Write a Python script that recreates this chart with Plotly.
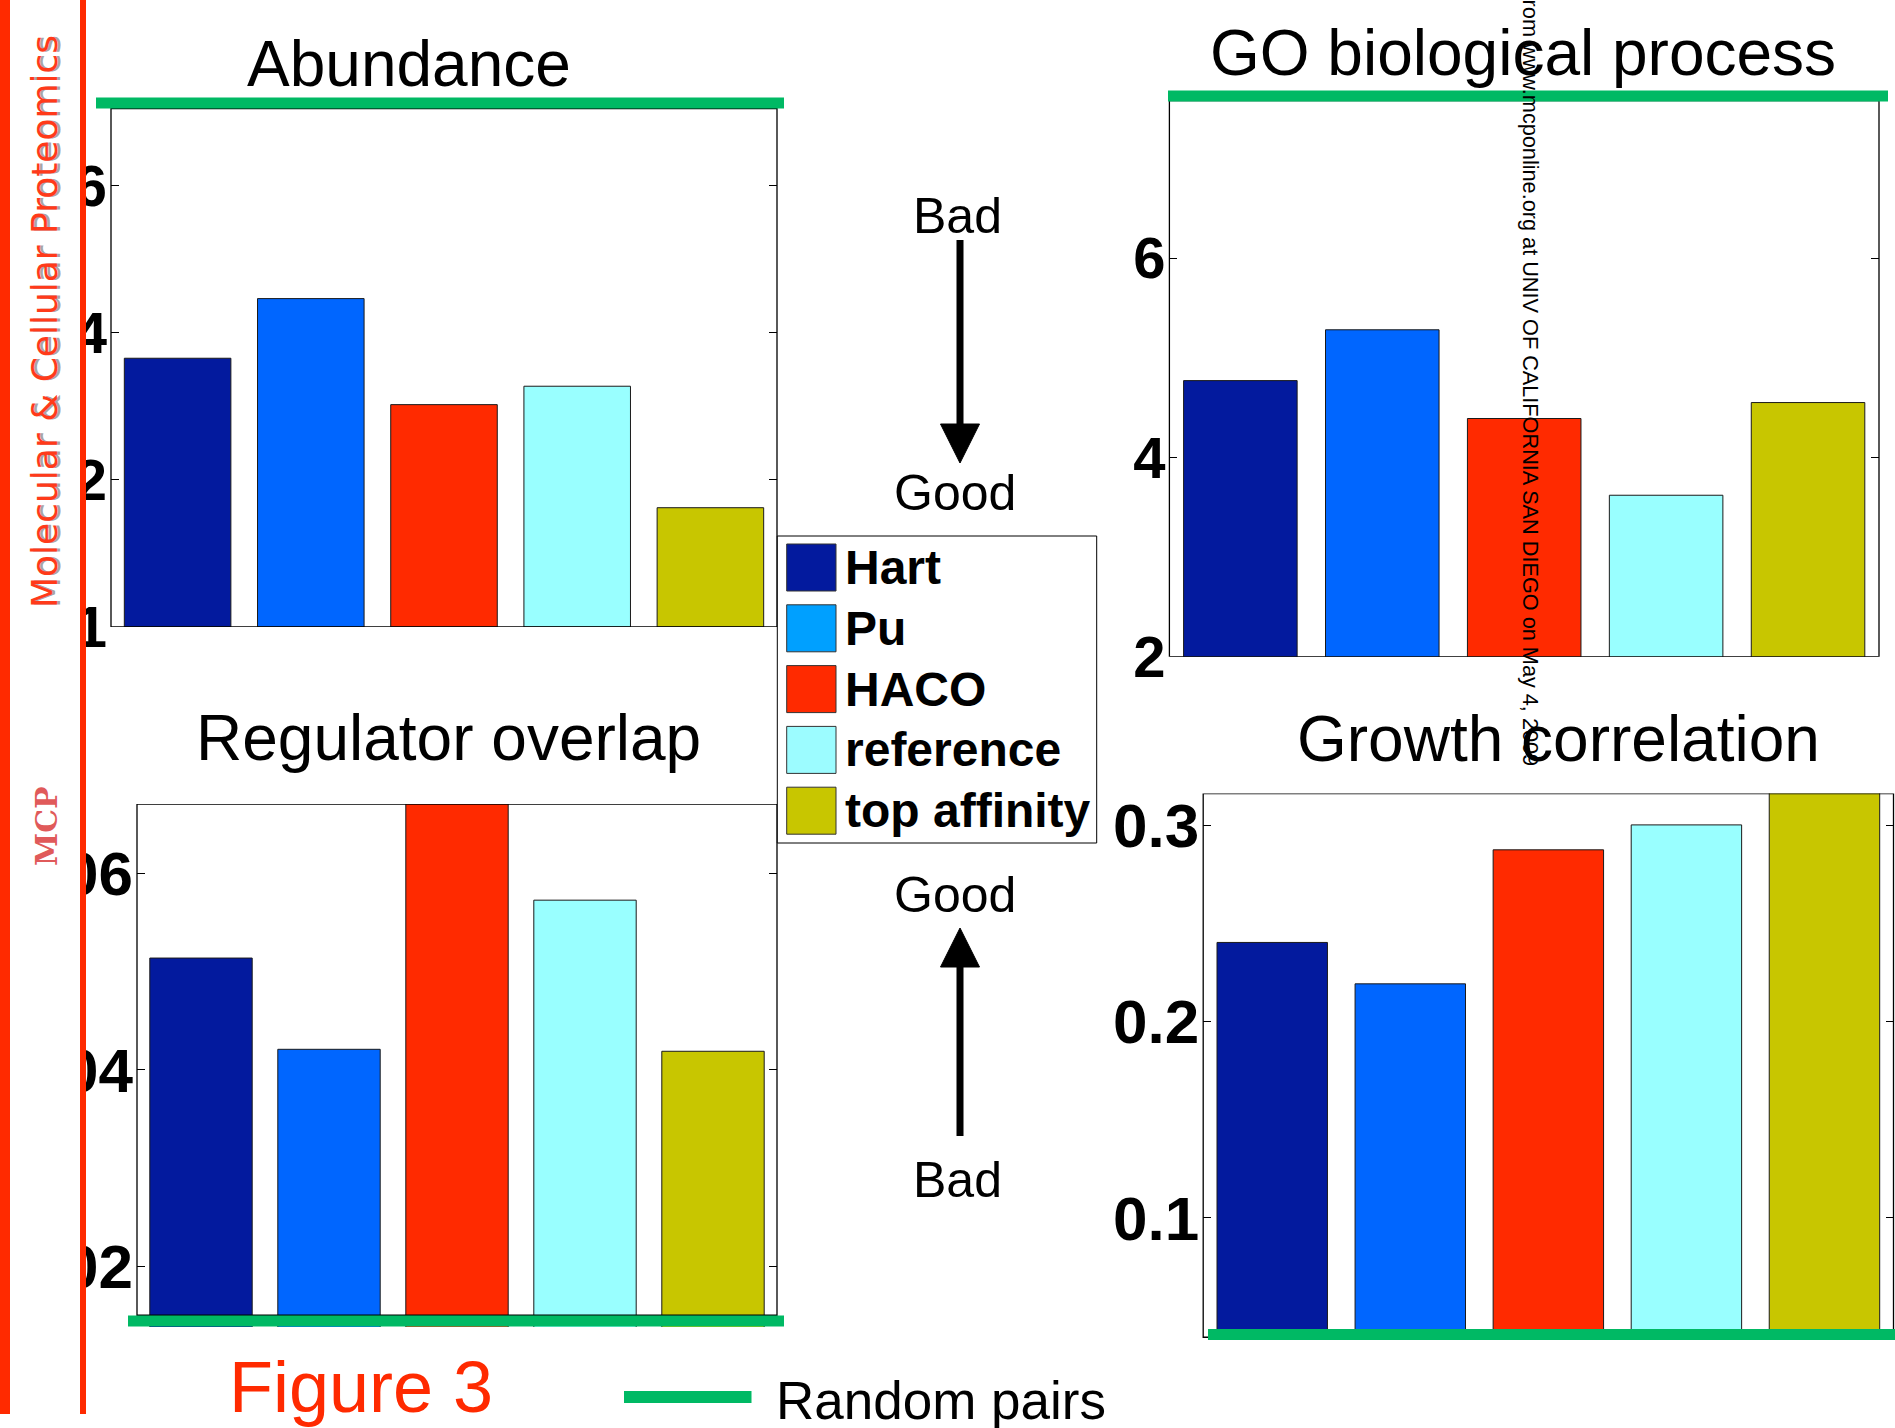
import plotly.graph_objects as go

# ---------------------------------------------------------------- data
CATEGORIES = ["Hart", "Pu", "HACO", "reference", "top affinity"]
BAR_COLORS = ["#031a9e", "#0066ff", "#ff2a00", "#99ffff", "#c8c600"]
LEGEND_COLORS = ["#031a9e", "#00a0ff", "#ff2a00", "#9cfcff", "#c8c600"]

ABUNDANCE = [3.65, 4.46, 3.02, 3.27, 1.62]
REGULATOR_OVERLAP = [0.0514, 0.0421, 0.0700, 0.0573, 0.0419]
GO_PROCESS = [4.77, 5.28, 4.39, 3.62, 4.55]
GROWTH_CORRELATION = [0.2404, 0.2193, 0.2876, 0.3003, 0.3300]

# level reached by random protein pairs, one per panel
RANDOM_PAIRS = [7.116, 0.01442, 7.625, 0.0406]

PANEL_TITLES = ["Abundance", "Regulator overlap", "GO biological process", "Growth correlation"]

ABUND_TICKS = [0, 2, 4, 6]
ABUND_TICK_TEXT = ["1", "2", "4", "6"]
REG_TICKS = [0.02, 0.04, 0.06]
REG_TICK_TEXT = ["0.02", "0.04", "0.06"]
GO_TICKS = [2, 4, 6]
GO_TICK_TEXT = ["2", "4", "6"]
GROWTH_TICKS = [0.1, 0.2, 0.3]
GROWTH_TICK_TEXT = ["0.1", "0.2", "0.3"]

X_POS = list(range(1, len(CATEGORIES) + 1))

# ---------------------------------------------------------------- page geometry
W, H = 1895, 1428
SANS = "Liberation Sans, Arial, Helvetica, sans-serif"
GREEN = "#00b964"
RED = "#ff2a00"


def fx(px):
    return px / W


def fy(px):
    return 1 - px / H


# plot areas in pixels (left, right, top, bottom), y range, framed y extent,
# tick font size, title centre, extent of the random-pairs line
PANELS = [
    dict(values=ABUNDANCE, ticks=ABUND_TICKS, ticktext=ABUND_TICK_TEXT,
         area=(111, 777, 95, 627), yrange=[0, 7.225], frame=(0, 7.04),
         tick_size=58, title_xy=(409, 64), line_x=(96, 784)),
    dict(values=REGULATOR_OVERLAP, ticks=REG_TICKS, ticktext=REG_TICK_TEXT,
         area=(137, 777, 804, 1327), yrange=[0.0138, 0.0671], frame=(0.0150, 0.0671),
         tick_size=62, title_xy=(448.5, 738), line_x=(128, 784)),
    dict(values=GO_PROCESS, ticks=GO_TICKS, ticktext=GO_TICK_TEXT,
         area=(1169.4, 1879, 88, 656.7), yrange=[2, 7.706], frame=(2, 7.58),
         tick_size=58, title_xy=(1523, 53), line_x=(1168, 1888)),
    dict(values=GROWTH_CORRELATION, ticks=GROWTH_TICKS, ticktext=GROWTH_TICK_TEXT,
         area=(1203.2, 1893.5, 793.5, 1340), yrange=[0.0378, 0.3163], frame=(0.0392, 0.3163),
         tick_size=62, title_xy=(1558, 739), line_x=(1208, 1895)),
]

fig = go.Figure()
shapes = []
annotations = []


def text_ann(text, x_px, y_px, size, color="black", weight="normal",
             family=SANS, xanchor="center", angle=0):
    return dict(text=text, x=fx(x_px), y=fy(y_px), xref="paper", yref="paper",
                xanchor=xanchor, yanchor="middle", showarrow=False, textangle=angle,
                font=dict(family=family, size=size, color=color, weight=weight))


for i, p in enumerate(PANELS, start=1):
    sfx = "" if i == 1 else str(i)
    xa, ya = "x" + sfx, "y" + sfx
    left, right, top, bottom = p["area"]

    fig.add_trace(go.Bar(
        x=X_POS, y=p["values"], width=0.8,
        marker=dict(color=BAR_COLORS, line=dict(color="#1a1a1a", width=1)),
        xaxis=xa, yaxis=ya, showlegend=False, hoverinfo="skip",
    ))

    fig.layout["xaxis" + sfx] = dict(
        domain=[fx(left), fx(right)], range=[0.5, 5.5], anchor=ya,
        showticklabels=False, ticks="", showgrid=False, zeroline=False, showline=False,
    )
    fig.layout["yaxis" + sfx] = dict(
        domain=[fy(bottom), fy(top)], range=p["yrange"], anchor=xa,
        tickvals=p["ticks"], ticktext=p["ticktext"],
        ticks="inside", ticklen=8, tickwidth=1, tickcolor="black",
        mirror="ticks", showline=False, showgrid=False, zeroline=False,
        ticklabelstandoff=3,
        tickfont=dict(family=SANS, size=p["tick_size"], color="black", weight="bold"),
    )

    # axes box
    shapes.append(dict(type="rect", xref=xa + " domain", yref=ya, x0=0, x1=1,
                       y0=p["frame"][0], y1=p["frame"][1],
                       line=dict(color="black", width=1.3), fillcolor="rgba(0,0,0,0)",
                       layer="above"))
    # random-pairs level
    rp = RANDOM_PAIRS[i - 1]
    shapes.append(dict(type="line", xref="paper", yref=ya,
                       x0=fx(p["line_x"][0]), x1=fx(p["line_x"][1]), y0=rp, y1=rp,
                       line=dict(color=GREEN, width=11), layer="above"))

    tx, ty = p["title_xy"]
    annotations.append(text_ann(PANEL_TITLES[i - 1], tx, ty, 64))

# ---------------------------------------------------------------- journal side bar
shapes += [
    dict(type="rect", xref="paper", yref="paper", x0=0, x1=fx(86), y0=0, y1=1,
         fillcolor="white", line=dict(width=0), layer="above"),
    dict(type="rect", xref="paper", yref="paper", x0=0, x1=fx(10), y0=fy(1414), y1=1,
         fillcolor=RED, line=dict(width=0), layer="above"),
    dict(type="rect", xref="paper", yref="paper", x0=fx(80), x1=fx(86), y0=fy(1414), y1=1,
         fillcolor=RED, line=dict(width=0), layer="above"),
]
annotations.append(text_ann("Molecular & Cellular Proteomics", 48, 322, 36,
                            color="rgba(90,90,90,0.55)", family="DejaVu Sans", angle=-90))
annotations.append(text_ann("Molecular & Cellular Proteomics", 45, 322, 36,
                            color="#ff3a1a", family="DejaVu Sans", angle=-90))
annotations.append(text_ann("MCP", 46, 826, 30, color="#e05a5a", weight="bold",
                            family="DejaVu Serif", angle=-90))

# ---------------------------------------------------------------- Bad / Good arrows
def arrow_shapes(shaft_from, shaft_to, head_base, tip, cx=960, half=19.5):
    return [
        dict(type="line", xref="paper", yref="paper",
             x0=fx(cx), x1=fx(cx), y0=fy(shaft_from), y1=fy(shaft_to),
             line=dict(color="black", width=7), layer="above"),
        dict(type="path", xref="paper", yref="paper",
             path=f"M{fx(cx - half)},{fy(head_base)} L{fx(cx + half)},{fy(head_base)} "
                  f"L{fx(cx)},{fy(tip)} Z",
             fillcolor="black", line=dict(color="black", width=1), layer="above"),
    ]


shapes += arrow_shapes(240, 426, 424, 463)
shapes += arrow_shapes(1136, 965, 967, 928)
annotations += [
    text_ann("Bad", 957, 216, 50),
    text_ann("Good", 955, 493, 50),
    text_ann("Good", 955, 895, 50),
    text_ann("Bad", 957, 1180, 50),
]

# ---------------------------------------------------------------- legend box
shapes.append(dict(type="rect", xref="paper", yref="paper",
                   x0=fx(777.3), x1=fx(1096.7), y0=fy(843), y1=fy(536),
                   fillcolor="white", line=dict(color="black", width=1), layer="above"))
for k, (name, col) in enumerate(zip(CATEGORIES, LEGEND_COLORS)):
    top = 544 + k * 60.8
    shapes.append(dict(type="rect", xref="paper", yref="paper",
                       x0=fx(786.7), x1=fx(836), y0=fy(top + 47), y1=fy(top),
                       fillcolor=col, line=dict(color="#333333", width=1), layer="above"))
    annotations.append(text_ann(name, 843, top + 23.5, 48, weight="bold", xanchor="left"))

# ---------------------------------------------------------------- footer
shapes.append(dict(type="line", xref="paper", yref="paper",
                   x0=fx(624), x1=fx(751.5), y0=fy(1397), y1=fy(1397),
                   line=dict(color=GREEN, width=12), layer="above"))
annotations.append(text_ann("Random pairs", 774, 1400, 53, xanchor="left"))
annotations.append(text_ann("Figure 3", 360.5, 1387, 72, color=RED))

# download stamp running down the page
annotations.append(text_ann(
    "Downloaded from www.mcponline.org at UNIV OF CALIFORNIA SAN DIEGO on May 4, 2009",
    1531, 316, 21.7, angle=90))

fig.update_layout(
    width=W, height=H, autosize=False,
    margin=dict(l=0, r=0, t=0, b=0, pad=0, autoexpand=False),
    paper_bgcolor="white", plot_bgcolor="white",
    shapes=shapes, annotations=annotations,
    showlegend=False, bargap=0.2,
)

fig.write_html("out.html", config={"displayModeBar": False})
